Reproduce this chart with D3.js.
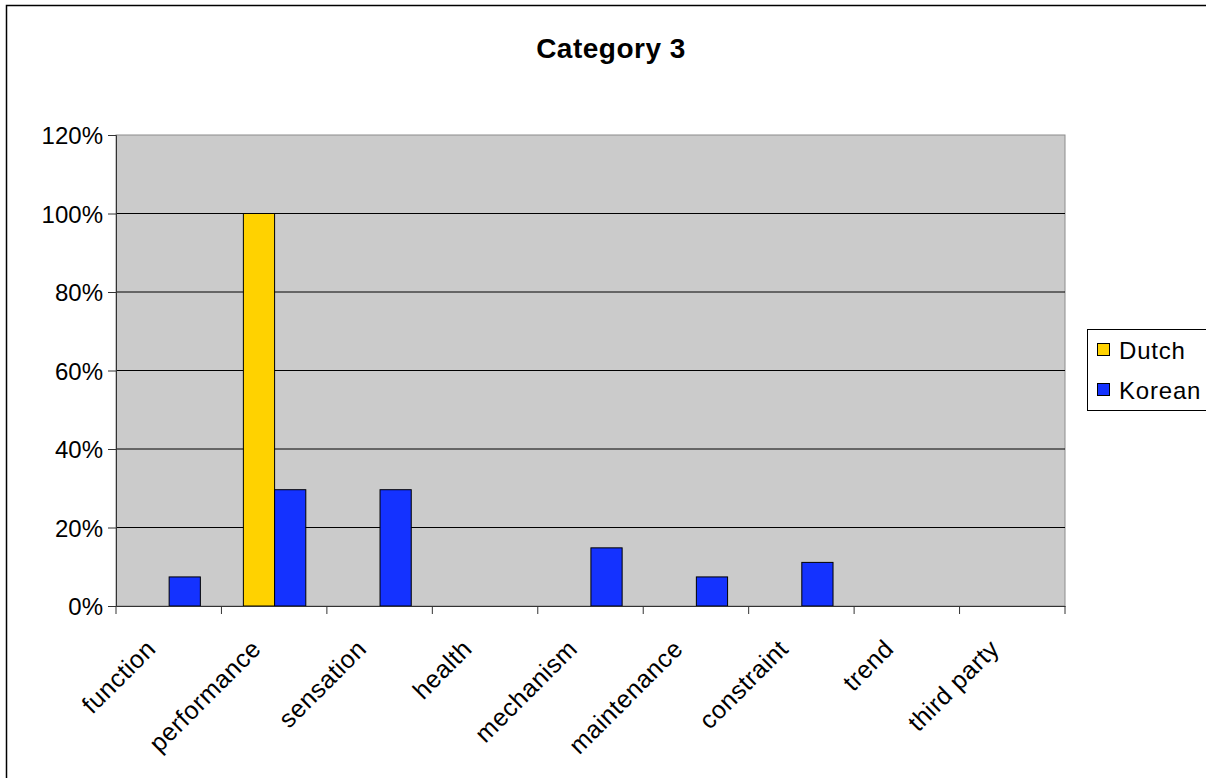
<!DOCTYPE html>
<html><head><meta charset="utf-8">
<script src="https://cdn.jsdelivr.net/npm/d3@7"></script>
<style>body{margin:0;background:#fff}svg{display:block;font-family:Arial,"Liberation Sans",sans-serif}</style>
</head><body>
<script>
const categories = ["function","performance","sensation","health","mechanism","maintenance","constraint","trend","third party"];
const seriesNames = ["Dutch","Korean"];
const dutch = [0, 1, 0, 0, 0, 0, 0, 0, 0];
const korean = [2/27, 8/27, 8/27, 0, 4/27, 2/27, 3/27, 0, 0];
const yTicks = [0, 0.2, 0.4, 0.6, 0.8, 1.0, 1.2];
const colors = ["#FFD200", "#1432FF"];
const title = "Category 3";

const W = 1206, H = 778;
const m = {left:116, right:1065, top:135, bottom:606};
const svg = d3.select("body").append("svg").attr("width", W).attr("height", H);

svg.append("rect").attr("x",6.5).attr("y",5.5).attr("width",W).attr("height",H)
  .attr("fill","#fff").attr("stroke","#000").attr("stroke-width",1.5);

const x0 = d3.scaleBand().domain(categories).range([m.left, m.right]).paddingInner(0).paddingOuter(0);
const y = d3.scaleLinear().domain([0, 1.2]).range([m.bottom, m.top]);
const x1 = d3.scaleBand().domain(seriesNames).range([x0.bandwidth()*0.208, x0.bandwidth()*0.8]);

svg.append("rect").attr("x",m.left).attr("y",m.top).attr("width",m.right-m.left).attr("height",m.bottom-m.top)
  .attr("fill","#CBCBCB").attr("stroke","#8c8c8c").attr("stroke-width",1);

// gridlines
svg.append("g").selectAll("line").data(yTicks.filter(d=>d>0 && d<1.2)).join("line")
  .attr("x1",m.left).attr("x2",m.right).attr("y1",d=>y(d)).attr("y2",d=>y(d))
  .attr("stroke","#000").attr("stroke-width",1);

// bars
const data = categories.map((c,i)=>({c, vals:[dutch[i], korean[i]]}));
const g = svg.append("g");
data.forEach(d=>{
  d.vals.forEach((v,j)=>{
    if (v <= 0) return;
    g.append("rect").attr("x", x0(d.c)+x1(seriesNames[j])).attr("y", y(v))
      .attr("width", x1.bandwidth()).attr("height", y(0)-y(v))
      .attr("fill", colors[j]).attr("stroke","#000").attr("stroke-width",1);
  });
});

// y axis
const yAxis = d3.axisLeft(y).tickValues(yTicks).tickFormat(d=>Math.round(d*100)+"%").tickSize(8).tickPadding(5);
const ya = svg.append("g").attr("transform",`translate(${m.left},0)`).call(yAxis);
ya.select(".domain").attr("stroke","#333");
ya.selectAll(".tick line").attr("stroke","#333");
ya.selectAll("text").attr("font-size",24).attr("fill","#000").attr("font-family","Arial,'Liberation Sans',sans-serif").attr("dy","0.36em");

// x axis
const xAxis = d3.axisBottom(x0).tickSize(0).tickFormat("");
const xa = svg.append("g").attr("transform",`translate(0,${m.bottom})`).call(xAxis);
xa.select(".domain").attr("stroke","#333");
const bounds = categories.map(c=>x0(c)).concat([m.right]);
xa.selectAll(".edge").data(bounds).join("line").attr("class","edge")
  .attr("x1",d=>d).attr("x2",d=>d).attr("y1",0).attr("y2",8).attr("stroke","#333");

svg.append("g").selectAll("text").data(categories).join("text")
  .attr("transform", d=>`translate(${x0(d)+x0.bandwidth()/2-24},${m.bottom+32}) rotate(-45)`)
  .attr("text-anchor","end").attr("dy","0.7em").attr("font-size",25).attr("letter-spacing","0.5px")
  .text(d=>d);

// title
svg.append("text").attr("x",611).attr("y",58).attr("text-anchor","middle")
  .attr("font-size",28).attr("font-weight","bold").attr("letter-spacing","0.5px").text(title);

// legend
const lg = svg.append("g");
lg.append("rect").attr("x",1087.5).attr("y",329.5).attr("width",125).attr("height",81)
  .attr("fill","#fff").attr("stroke","#000").attr("stroke-width",1);
seriesNames.forEach((s,i)=>{
  const yy = 350 + i*40;
  lg.append("rect").attr("x",1097.5).attr("y",yy-6.5).attr("width",12).attr("height",12)
    .attr("fill",colors[i]).attr("stroke","#000").attr("stroke-width",1);
  lg.append("text").attr("x",1119).attr("y",yy).attr("dy","0.36em").attr("font-size",24).attr("letter-spacing","0.8px").text(s);
});
</script>
</body></html>
